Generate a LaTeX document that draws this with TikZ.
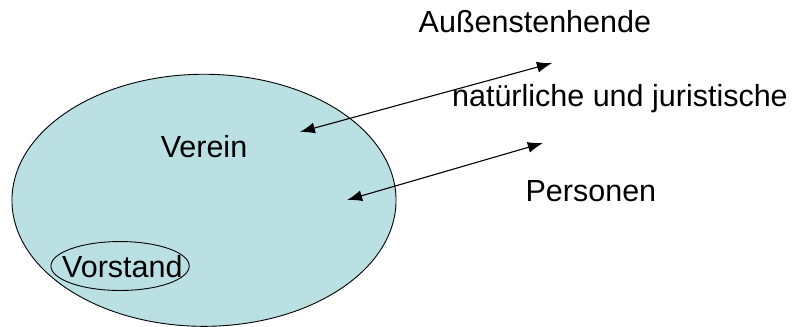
\documentclass[tikz,border=0pt]{standalone}
\usepackage{fontspec}
\setmainfont{Liberation Sans}
\usepackage{tikz}
\usetikzlibrary{shapes.geometric, arrows.meta}
\definecolor{vereinblau}{RGB}{186,224,227}
\tikzstyle{arrow} = [line width=1.1pt,{Latex[length=15pt,width=11pt]}-{Latex[length=15pt,width=11pt]}]
\tikzstyle{label} = [anchor=base,inner sep=0pt,font=\fontsize{30.5}{36}\selectfont]

\begin{document}
\begin{tikzpicture}
\useasboundingbox (0,0) rectangle (28.40,11.46);
\draw[line width=0.9pt,fill=vereinblau] (7.17,4.42) ellipse (6.75cm and 4.43cm);
\draw[line width=0.9pt] (4.22,2.11) ellipse (2.43cm and 0.86cm);
\node[label] (verein) at (7.17,5.94) {Verein};
\node[label] (vorstand) at (4.30,1.69) {Vorstand};
\node[label] (aussen) at (18.80,10.33) {Außenstenhende};
\node[label] (natuerlich) at (21.79,7.70) {natürliche und juristische};
\node[label] (personen) at (20.77,4.36) {Personen};
\coordinate (a1) at (10.54,6.82);
\coordinate (b1) at (19.40,9.24);
\coordinate (a2) at (12.20,4.43);
\coordinate (b2) at (19.08,6.43);
\draw[arrow] (a1) -- (b1);
\draw[arrow] (a2) -- (b2);
\end{tikzpicture}
\end{document}
